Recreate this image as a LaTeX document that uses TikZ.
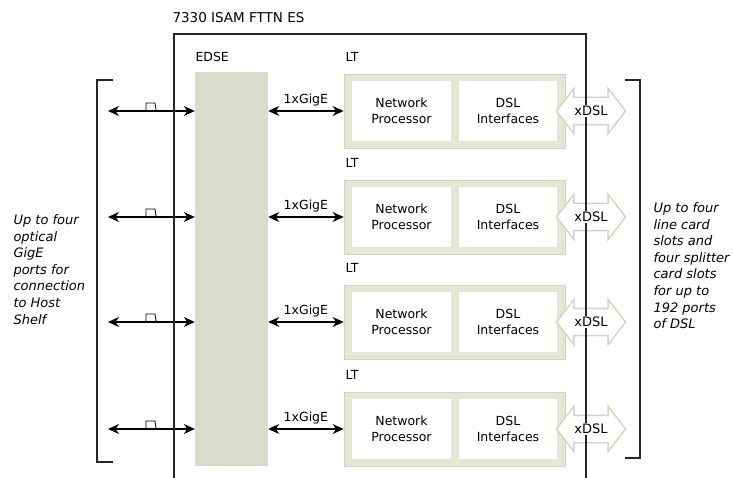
\documentclass[tikz,border=0pt]{standalone}
\usepackage{fontspec}
\setmainfont{DejaVu Sans}
\usetikzlibrary{arrows.meta,shapes.arrows}

\definecolor{edsefill}{HTML}{D9DCCB}
\definecolor{lcfill}{HTML}{E4E7D6}
\definecolor{lcborder}{HTML}{D0D5C0}

\tikzset{
  frameline/.style={draw=black!85, line width=1.3pt},
  port/.style={<->, line width=1.1pt},
  ltbox/.style={draw=lcborder, fill=lcfill, line width=0.8pt, minimum width=221pt, minimum height=74pt, inner sep=0pt},
  unitbox/.style={fill=white, minimum width=99pt, minimum height=60pt, align=center, inner sep=0pt},
  xdsl/.style={double arrow, draw=lcborder, fill=white, line width=1.4pt, minimum height=69pt, inner xsep=0pt, inner ysep=13pt, double arrow head extend=9pt, double arrow tip angle=105},
  note/.style={anchor=north west, align=left, font=\fontsize{13}{16.6}\selectfont\itshape}
}

\begin{document}
\begin{tikzpicture}[x=1pt, y=-1pt, >={Stealth[length=11pt, width=10pt, inset=3.5pt]}, font=\fontsize{12.5}{16}\selectfont]
\useasboundingbox (0,0) rectangle (733,478);

% shelf title
\node[anchor=west, font=\fontsize{13.5}{16}\selectfont] (title) at (169,18) {7330 ISAM FTTN ES};

% EDSE card
\node[anchor=west] (edselbl) at (192,57) {EDSE};
\node[fill=edsefill, minimum width=73pt, minimum height=394pt, inner sep=0pt] (edse) at (231.5,269) {};

% four line cards, each with its uplink and its DSL side
\foreach \i/\y in {1/111, 2/217, 3/322, 4/429} {
  \node[anchor=west] (ltlbl\i) at (342,\y-54) {LT};
  \node[ltbox] (lt\i) at (454.5,\y) {};
  \node[unitbox] (np\i) at (401.5,\y) {Network\\Processor};
  \node[unitbox, minimum width=98pt] (di\i) at (508,\y) {DSL\\Interfaces};
  \node[xdsl] (dsl\i) at (591,\y) {};
  % GigE uplinks
  \coordinate (host\i) at (108,\y);
  \draw[port] (host\i) -- (edse.west |- host\i);
  \draw[line width=0.8pt] (144,\y) -- (146,\y-1) -- (146,\y-8) -- (155,\y-8) -- (156,\y-1) -- (158,\y);
  \draw[port] (edse.east |- lt\i) -- (lt\i.west) node[midway, above=1pt] (gige\i) {1xGigE};
}

% shelf outline
\draw[frameline] (174,478) |- (586,34) -- (586,478);

\foreach \i in {1,...,4}
  \node[fill=white, inner sep=1pt, font=\fontsize{13}{16}\selectfont] (dsltxt\i) at (dsl\i) {xDSL};

% brackets and notes
\draw[frameline] (113,80) -- (97,80) -- (97,462) -- (113,462);
\draw[frameline] (625,80) -- (640,80) -- (640,458) -- (625,458);
\node[note] (hostnote) at (10,211) {Up to four\\optical\\GigE\\ports for\\connection\\to Host\\Shelf};
\node[note] (slotnote) at (650,199) {Up to four\\line card\\slots and\\four splitter\\card slots\\for up to\\192 ports\\of DSL};

\end{tikzpicture}
\end{document}
